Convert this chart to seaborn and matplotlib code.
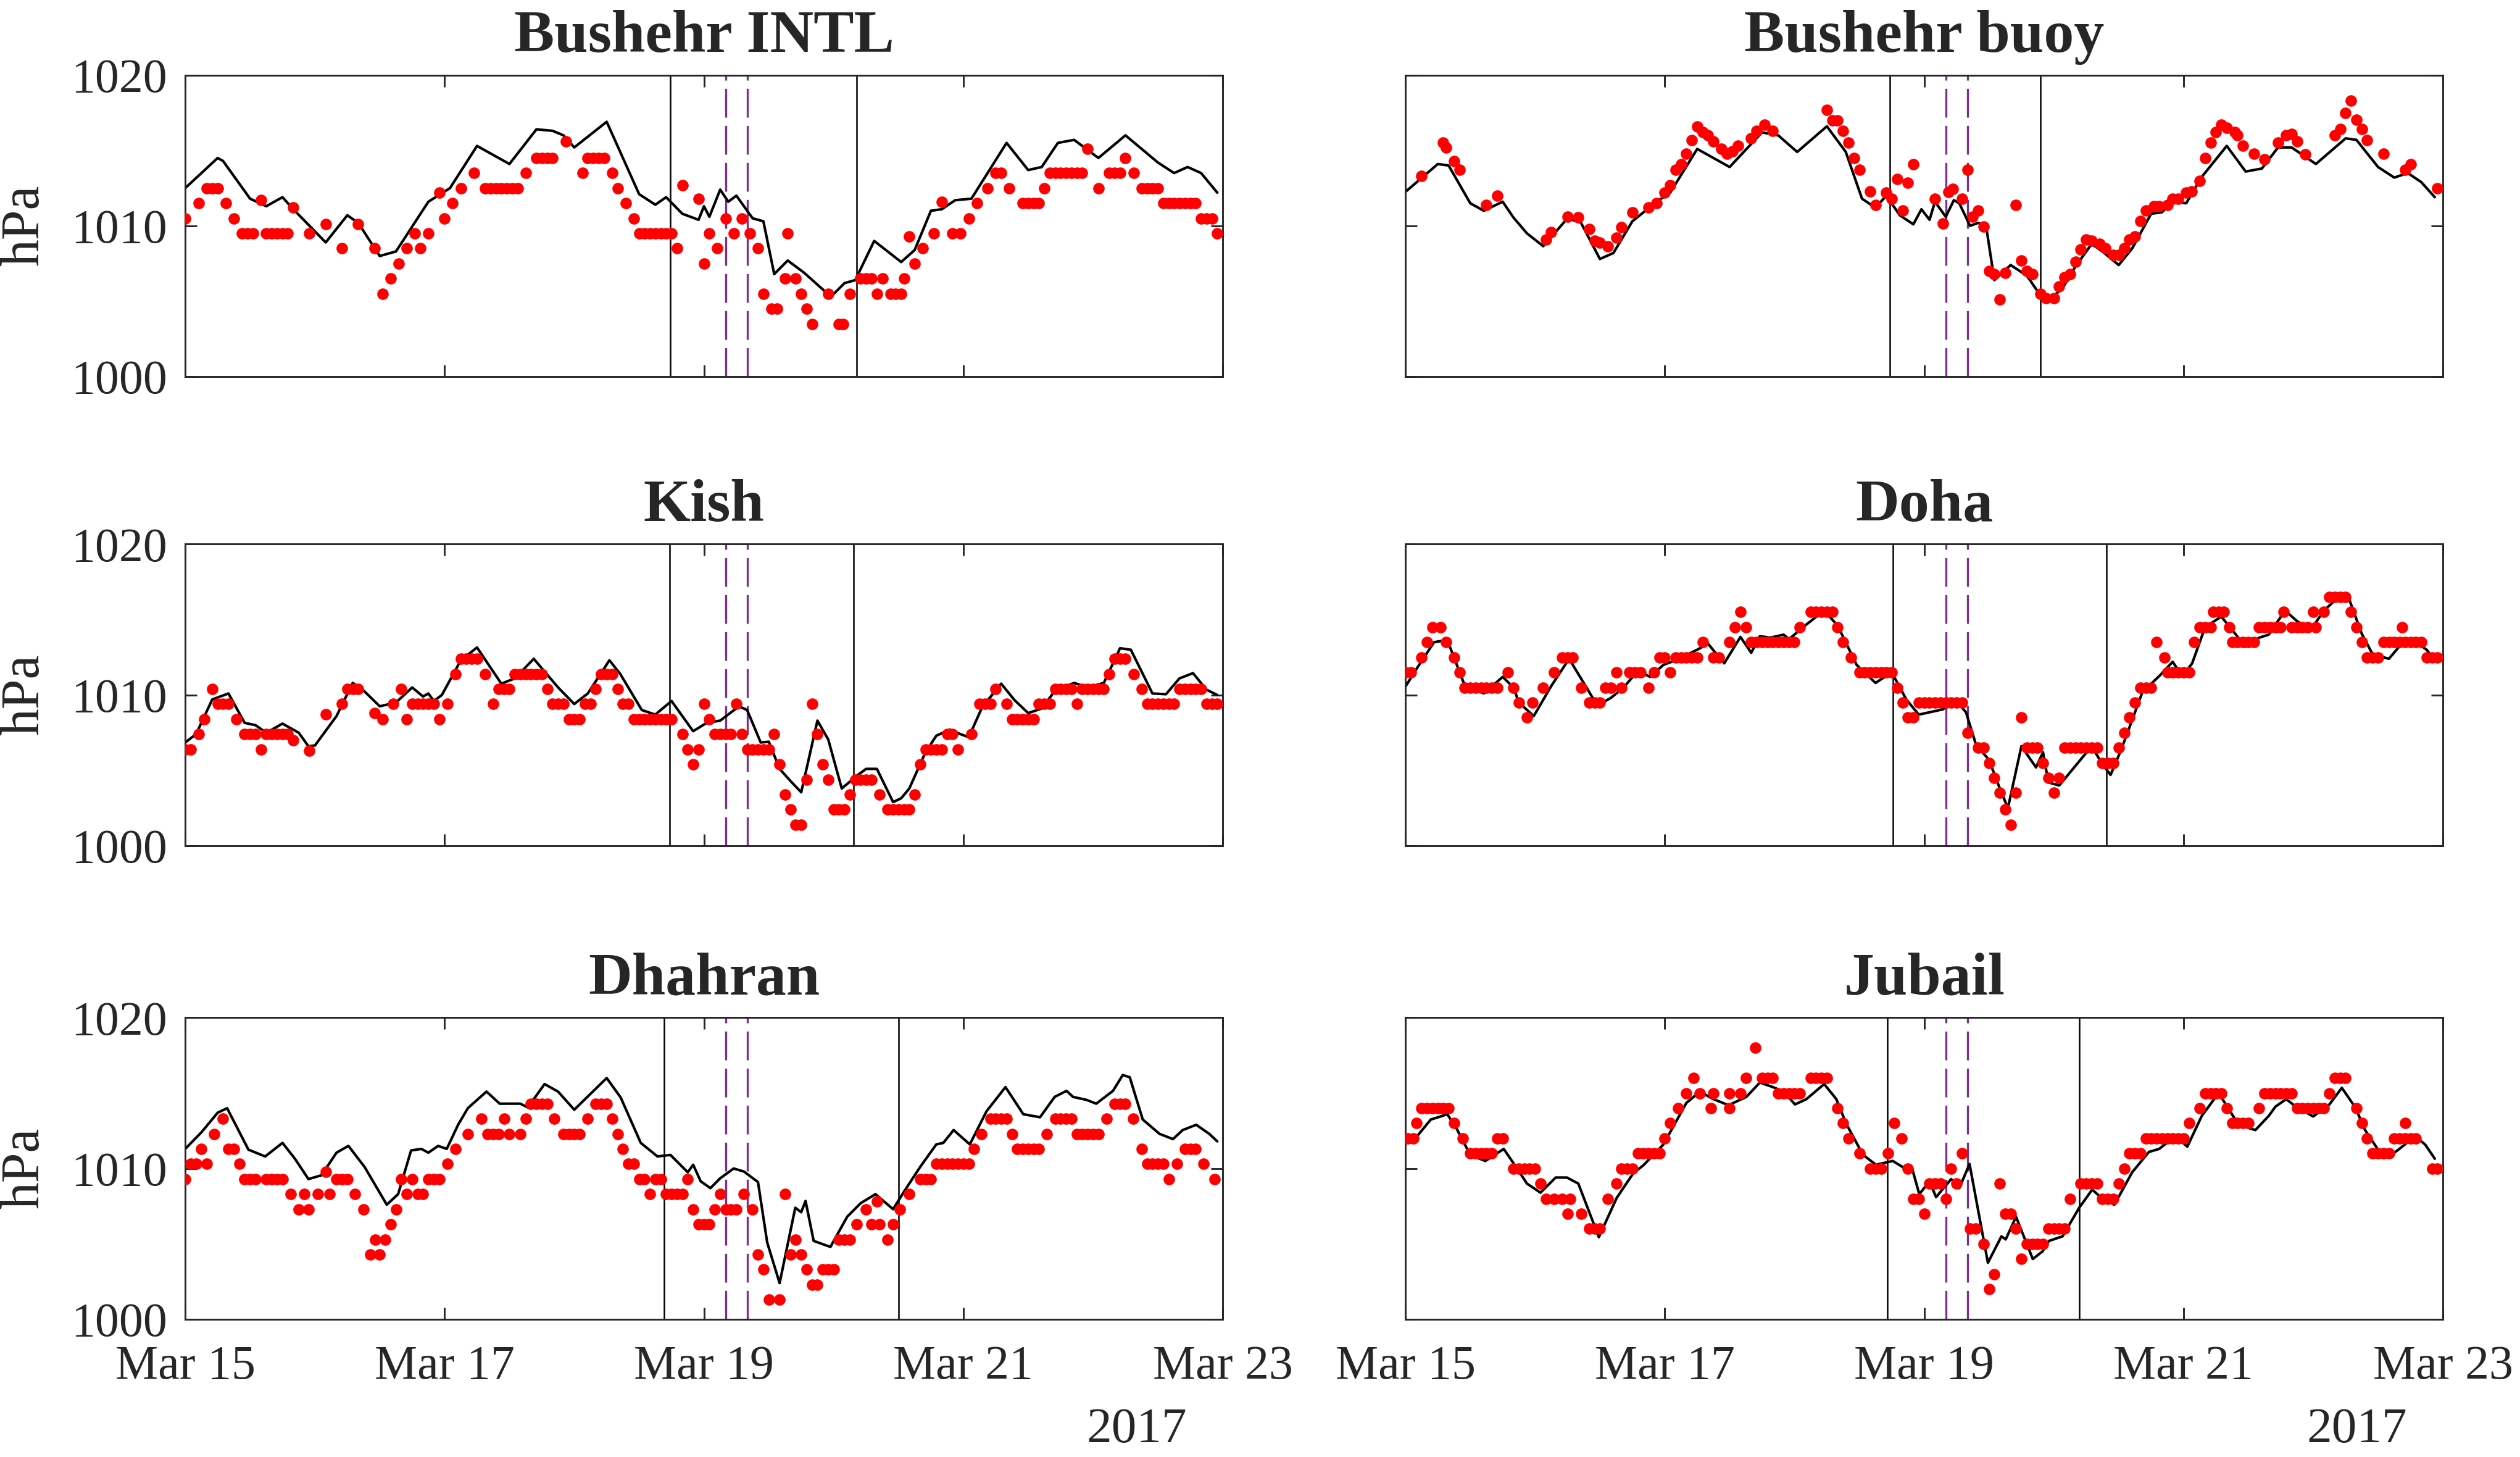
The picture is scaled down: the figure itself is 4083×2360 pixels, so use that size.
import matplotlib
matplotlib.use("Agg")
import matplotlib.pyplot as plt
import matplotlib.dates as mdates
import pandas as pd
import seaborn as sns

# hours after 2017-03-15 00:00 and pressure (hPa)
# black line = model, red dots = observations

bushehr_intl_model = [
    (0, 1012.5), (6, 1014.5), (7, 1014.3), (12, 1011.8), (15, 1011.3), (18, 1011.9), (20, 1011.1),
    (26, 1008.9), (30, 1010.7), (32, 1010.2), (36, 1008.0), (39, 1008.3), (45, 1011.6), (49, 1012.5),
    (54, 1015.3), (60, 1014.1), (65, 1016.4), (68, 1016.3), (70, 1016.0), (72, 1015.2), (78, 1016.9),
    (84, 1012.1), (87, 1011.4), (89, 1011.9), (92, 1010.8), (95, 1010.4), (96, 1011.3), (97, 1010.6),
    (99, 1012.4), (100.5, 1011.6), (102, 1012.0), (105, 1010.5), (107, 1010.3), (109, 1006.8),
    (111.5, 1007.7), (114.5, 1006.9), (119.5, 1005.3), (122, 1006.2), (124, 1006.4), (127.5, 1009.0),
    (132.5, 1007.6), (135, 1008.4), (138, 1011.0), (140, 1011.1), (142.5, 1011.7), (145.5, 1011.8),
    (152, 1015.5), (156, 1013.7), (158.5, 1013.9), (161.5, 1015.5), (164.5, 1015.7), (169, 1014.5),
    (174, 1016.0), (180, 1014.2), (183, 1013.5), (185.5, 1013.9), (188, 1013.5), (191, 1012.2),
]
bushehr_intl_obs = [
    (0, 1010.5), (2.5, 1011.5), (4, 1012.5), (5, 1012.5), (6, 1012.5), (7.5, 1011.5), (9, 1010.5),
    (10.5, 1009.5), (11.5, 1009.5), (12.5, 1009.5), (14, 1011.7), (15, 1009.5), (16, 1009.5),
    (17, 1009.5), (18, 1009.5), (19, 1009.5), (20, 1011.2), (23, 1009.5), (26, 1010.1), (29, 1008.5),
    (32, 1010.1), (35, 1008.5), (36.5, 1005.5), (38, 1006.5), (39.5, 1007.5), (41, 1008.5),
    (42.5, 1009.5), (43.5, 1008.5), (45, 1009.5), (47, 1012.2), (48, 1010.5), (49.5, 1011.5),
    (51, 1012.5), (53.5, 1013.5), (55.5, 1012.5), (56.5, 1012.5), (57.5, 1012.5), (58.5, 1012.5),
    (59.5, 1012.5), (60.5, 1012.5), (61.5, 1012.5), (63, 1013.5), (65, 1014.5), (66, 1014.5),
    (67, 1014.5), (68, 1014.5), (70.5, 1015.6), (73.5, 1013.5), (74.5, 1014.5), (75.5, 1014.5),
    (76.5, 1014.5), (77.5, 1014.5), (79, 1013.5), (80, 1012.5), (81.5, 1011.5), (83, 1010.5),
    (84, 1009.5), (85, 1009.5), (86, 1009.5), (87, 1009.5), (88, 1009.5), (89, 1009.5), (90, 1009.5),
    (91, 1008.5), (92, 1012.7), (95, 1011.8), (96, 1007.5), (97, 1009.5), (98.5, 1008.5),
    (100, 1010.5), (101.5, 1009.5), (103, 1010.5), (104.5, 1009.5), (106, 1008.5), (107, 1005.5),
    (108.5, 1004.5), (109.5, 1004.5), (111, 1006.5), (111.5, 1009.5), (113, 1006.5), (114, 1005.5),
    (115, 1004.5), (116, 1003.5), (119, 1005.5), (121, 1003.5), (121.7, 1003.5), (123, 1005.5),
    (125, 1006.5), (126, 1006.5), (127, 1006.5), (128, 1005.5), (129, 1006.5), (130.5, 1005.5),
    (131.5, 1005.5), (132.5, 1005.5), (133, 1006.5), (134, 1009.3), (135, 1007.5), (136.5, 1008.5),
    (138.5, 1009.5), (140, 1011.6), (142, 1009.5), (143.5, 1009.5), (145, 1010.5), (146.5, 1011.5),
    (148.5, 1012.5), (150, 1013.5), (151, 1013.5), (152.5, 1012.5), (155, 1011.5), (156, 1011.5),
    (157, 1011.5), (158, 1011.5), (159, 1012.5), (160, 1013.5), (161, 1013.5), (162, 1013.5),
    (163, 1013.5), (164, 1013.5), (165, 1013.5), (166, 1013.5), (167, 1015.1), (169, 1012.5),
    (171, 1013.5), (172, 1013.5), (173, 1013.5), (174, 1014.5), (175.5, 1013.5), (177, 1012.5),
    (178, 1012.5), (179, 1012.5), (180, 1012.5), (181, 1011.5), (182, 1011.5), (183, 1011.5),
    (184, 1011.5), (185, 1011.5), (186, 1011.5), (187, 1011.5), (188, 1010.5), (189, 1010.5),
    (190, 1010.5), (191, 1009.5),
]

bushehr_buoy_model = [
    (0, 1012.25), (6, 1014.1), (8, 1014.0), (12, 1011.5), (14.5, 1011.0), (18, 1011.6), (20, 1010.55),
    (22.5, 1009.5), (25.5, 1008.65), (30, 1010.5), (32.5, 1010.2), (36, 1007.8), (38.5, 1008.2),
    (42, 1010.3), (46.5, 1011.6), (49, 1012.2), (54, 1015.1), (60, 1013.9), (66, 1016.2), (69, 1016.0),
    (72.5, 1014.9), (78, 1016.6), (81.5, 1014.9), (84.5, 1011.8), (87, 1011.2), (89, 1012.0),
    (91.5, 1010.7), (94, 1010.1), (95.5, 1011.1), (97, 1010.4), (98, 1011.6), (100, 1010.6),
    (101.5, 1011.7), (102.5, 1011.5), (104.5, 1010.0), (106, 1010.2), (107.5, 1009.9), (109, 1006.4),
    (112, 1007.4), (115, 1006.7), (117.5, 1005.4), (119, 1005.1), (121.5, 1005.8), (124, 1007.3),
    (127, 1008.8), (129, 1008.3), (132, 1007.4), (134.5, 1008.5), (138, 1010.8), (140, 1010.9),
    (142, 1011.6), (144.5, 1011.5), (147.5, 1013.3), (152, 1015.3), (155.5, 1013.6), (158.5, 1013.8),
    (161.5, 1015.2), (164, 1015.2), (168.5, 1014.1), (174, 1015.8), (176, 1015.7), (180, 1013.9),
    (183, 1013.2), (185.5, 1013.5), (188, 1012.9), (190.5, 1011.9),
]
bushehr_buoy_obs = [
    (3, 1013.3), (7, 1015.5), (7.5, 1015.2), (9, 1014.3), (10, 1013.7), (15, 1011.4), (17, 1012.0),
    (26, 1009.1), (27, 1009.6), (30, 1010.6), (32, 1010.55), (34, 1009.8), (35, 1009.0), (36, 1008.9),
    (37.5, 1008.65), (39, 1009.2), (40, 1009.9), (42, 1010.9), (45, 1011.2), (46.5, 1011.5),
    (48, 1012.2), (49, 1012.7), (50, 1013.7), (51, 1014.1), (52, 1014.8), (53, 1015.7), (54, 1016.6),
    (55, 1016.2), (56, 1016.0), (57, 1015.6), (58.5, 1015.1), (59.5, 1014.8), (60.5, 1014.95),
    (61.5, 1015.3), (64, 1015.8), (65, 1016.3), (66.5, 1016.7), (68, 1016.3), (78, 1017.7),
    (79, 1017.0), (80, 1017.0), (81, 1016.3), (82, 1015.5), (83, 1014.5), (84, 1013.7), (86, 1012.3),
    (87, 1011.4), (89, 1012.2), (90, 1011.8), (91, 1013.1), (92, 1011.0), (93, 1012.85), (94, 1014.1),
    (98, 1011.8), (99.5, 1010.15), (100.5, 1012.25), (101.3, 1012.45), (103, 1011.8), (104, 1013.7),
    (105, 1010.6), (106, 1011.0), (107, 1009.95), (108, 1007.0), (109, 1006.8), (110, 1005.1),
    (111, 1006.9), (113, 1011.4), (114, 1007.7), (115, 1007.0), (116, 1006.8), (117.5, 1005.5),
    (118.5, 1005.2), (120, 1005.2), (121, 1006.0), (122, 1006.6), (123, 1006.8), (124, 1007.6),
    (125, 1008.45), (126, 1009.1), (127, 1009.0), (128.5, 1008.8), (129.5, 1008.5), (131, 1008.05),
    (132, 1008.05), (133, 1008.5), (134, 1009.1), (135, 1009.3), (136, 1010.3), (137, 1011.0),
    (138.5, 1011.3), (139.5, 1011.3), (141, 1011.4), (142, 1011.8), (143, 1011.8), (144.5, 1012.2),
    (145.5, 1012.3), (147, 1013.0), (148, 1014.5), (149, 1015.5), (150, 1016.2), (151, 1016.7),
    (152, 1016.5), (153.5, 1016.2), (154, 1016.0), (155, 1015.3), (157, 1014.8), (159, 1014.4),
    (161.5, 1015.5), (163, 1016.0), (164, 1016.1), (165, 1015.6), (166.5, 1014.75), (172, 1016.0),
    (173, 1016.4), (174, 1017.5), (175, 1018.3), (176, 1017.05), (177, 1016.4), (178, 1015.7),
    (181, 1014.8), (185, 1013.7), (186, 1014.1), (191, 1012.5),
]

kish_model = [
    (0, 1006.85), (2, 1007.4), (5, 1009.7), (8, 1010.1), (11, 1008.15), (13, 1008.0), (15, 1007.5),
    (18, 1008.1), (21, 1007.5), (22.8, 1006.6), (24, 1006.65), (28, 1008.6), (31, 1010.8),
    (33, 1010.3), (36, 1009.25), (39, 1009.5), (42, 1010.5), (44, 1009.9), (45, 1010.1), (46, 1009.6),
    (47.5, 1010.0), (51, 1012.3), (54, 1013.15), (58.5, 1010.75), (61, 1011.1), (64.5, 1012.4),
    (69, 1010.5), (72, 1009.4), (74.5, 1010.1), (78.5, 1012.3), (80.5, 1011.4), (84.5, 1009.0),
    (87, 1008.7), (90, 1009.6), (94, 1007.6), (96.5, 1008.15), (99, 1008.3), (102.5, 1009.25),
    (104, 1009.0), (106.5, 1006.85), (108, 1006.9), (110, 1005.1), (112, 1004.3), (114, 1003.55),
    (117, 1008.3), (119, 1007.05), (121.5, 1003.8), (124.5, 1004.7), (126, 1005.1), (128, 1005.1),
    (131, 1002.9), (132.5, 1003.15), (134, 1003.8), (137, 1006.2), (139, 1007.3), (141.5, 1007.7),
    (143.5, 1007.4), (145, 1007.2), (147.5, 1009.2), (151, 1010.75), (153.5, 1009.65), (156, 1008.8),
    (158.5, 1009.1), (161, 1010.3), (164.5, 1010.8), (167, 1010.5), (170, 1010.8), (173, 1013.1),
    (175, 1013.0), (179, 1010.1), (181.5, 1010.05), (184, 1011.1), (186.5, 1011.45), (189, 1010.35),
    (191, 1010.0),
]
kish_obs = [
    (0, 1006.4), (1, 1006.4), (2.5, 1007.4), (3.5, 1008.4), (5, 1010.4), (6, 1009.4), (7, 1009.4),
    (8, 1009.4), (9.5, 1008.4), (11, 1007.4), (12, 1007.4), (13, 1007.4), (14, 1006.4), (15, 1007.4),
    (16, 1007.4), (17, 1007.4), (18, 1007.4), (19, 1007.4), (20, 1007.0), (23, 1006.3), (26, 1008.7),
    (29, 1009.4), (30, 1010.4), (31, 1010.4), (32, 1010.4), (35, 1008.8), (36.5, 1008.4),
    (38.5, 1009.4), (40, 1010.4), (41, 1008.4), (42, 1009.4), (43, 1009.4), (44, 1009.4), (45, 1009.4),
    (46, 1009.4), (47, 1008.4), (48.5, 1009.4), (50, 1011.4), (51, 1012.4), (52, 1012.4),
    (53, 1012.4), (54, 1012.4), (55.5, 1011.4), (57, 1009.4), (58, 1010.4), (59, 1010.4),
    (60, 1010.4), (61, 1011.4), (62, 1011.4), (63, 1011.4), (64, 1011.4), (65, 1011.4), (66, 1011.4),
    (67, 1010.4), (68, 1009.4), (69, 1009.4), (70, 1009.4), (71, 1008.4), (72, 1008.4), (73, 1008.4),
    (74, 1009.4), (75, 1009.4), (76, 1010.4), (77, 1011.4), (78, 1011.4), (79, 1011.4), (80, 1010.4),
    (81, 1009.4), (82, 1009.4), (83, 1008.4), (84, 1008.4), (85, 1008.4), (86, 1008.4), (87, 1008.4),
    (88, 1008.4), (89, 1008.4), (90, 1008.4), (92, 1007.4), (93, 1006.4), (94, 1005.4), (95, 1006.4),
    (96, 1009.4), (97, 1008.4), (98, 1007.4), (99, 1007.4), (100, 1007.4), (101, 1007.4),
    (102, 1009.4), (103, 1007.4), (104, 1006.4), (105, 1006.4), (106, 1006.4), (107, 1006.4),
    (108, 1006.4), (109, 1007.4), (110, 1005.4), (111, 1003.4), (112, 1002.4), (113, 1001.4),
    (114, 1001.4), (115, 1004.4), (116, 1009.4), (117, 1007.4), (118, 1005.4), (119, 1004.4),
    (120, 1002.4), (121, 1002.4), (122, 1002.4), (123, 1003.4), (124, 1004.4), (125, 1004.4),
    (126, 1004.4), (127, 1004.4), (128.5, 1003.4), (130, 1002.4), (131, 1002.4), (132, 1002.4),
    (133, 1002.4), (134, 1002.4), (135, 1003.4), (136, 1005.4), (137, 1006.4), (138, 1006.4),
    (139, 1006.4), (140, 1006.4), (141, 1007.4), (142, 1007.4), (143, 1006.4), (145.5, 1007.4),
    (147, 1009.4), (148, 1009.4), (149, 1009.4), (150, 1010.4), (152, 1009.4), (153, 1008.4),
    (154, 1008.4), (155, 1008.4), (156, 1008.4), (157, 1008.4), (158, 1009.4), (159, 1009.4),
    (160, 1009.4), (161, 1010.4), (162, 1010.4), (163, 1010.4), (164, 1010.4), (165, 1009.4),
    (166, 1010.4), (167, 1010.4), (168, 1010.4), (169, 1010.4), (170, 1010.4), (171, 1011.4),
    (172, 1012.4), (173, 1012.4), (174, 1012.4), (175.5, 1011.4), (177, 1010.4), (178, 1009.4),
    (179, 1009.4), (180, 1009.4), (181, 1009.4), (182, 1009.4), (183, 1009.4), (184, 1010.4),
    (185, 1010.4), (186, 1010.4), (187, 1010.4), (188, 1010.4), (189, 1009.4), (190, 1009.4),
    (191, 1009.4),
]

doha_model = [
    (0, 1010.55), (2, 1011.7), (5.3, 1013.5), (7.75, 1013.65), (10.8, 1010.8), (14.5, 1010.1),
    (18, 1011.2), (20, 1010.5), (21, 1009.5), (23.75, 1008.6), (27, 1010.6), (30.3, 1012.4),
    (33, 1010.8), (35.5, 1009.3), (38, 1009.8), (40.4, 1010.5), (43, 1011.6), (45.3, 1011.2),
    (47.75, 1012.0), (50, 1012.3), (54, 1013.0), (56, 1013.4), (59, 1012.1), (62, 1013.85),
    (64, 1012.8), (65.6, 1013.9), (67.5, 1013.8), (70, 1014.0), (71, 1013.7), (73.6, 1014.5),
    (77.5, 1015.6), (80, 1014.6), (83.5, 1012.0), (87, 1010.8), (90, 1011.5), (92.7, 1009.7),
    (95, 1008.7), (97.6, 1008.9), (99.5, 1009.05), (101.7, 1009.7), (103.75, 1008.85), (105.6, 1006.7),
    (108, 1005.7), (110, 1003.8), (111.5, 1002.5), (114, 1006.6), (116.7, 1005.2), (118, 1006.2),
    (119, 1004.2), (121, 1004.0), (127, 1006.6), (129, 1005.4), (130.5, 1004.7), (132.5, 1006.4),
    (136.4, 1010.2), (139.5, 1011.25), (142, 1012.2), (143.75, 1011.25), (145.6, 1012.1),
    (148, 1014.5), (151, 1015.2), (155.5, 1013.2), (158, 1013.8), (159.75, 1014.0), (162.8, 1015.6),
    (165, 1014.9), (167.5, 1014.3), (170, 1015.6), (173.3, 1016.7), (174.5, 1016.5), (177, 1014.05),
    (179, 1012.7), (182, 1012.4), (184.5, 1013.45), (187, 1013.5), (189, 1013.0), (190.5, 1012.3),
]
doha_obs = [
    (0, 1011.5), (1, 1011.5), (3, 1012.5), (4, 1013.5), (5, 1014.5), (6.5, 1014.5), (7.5, 1013.5),
    (9, 1012.5), (10, 1011.5), (11, 1010.5), (12, 1010.5), (13, 1010.5), (14, 1010.5), (15, 1010.5),
    (16, 1010.5), (17, 1010.5), (19, 1011.5), (20, 1010.5), (21, 1009.5), (22.5, 1008.5),
    (23.5, 1009.5), (25.5, 1010.5), (27.5, 1011.5), (29, 1012.5), (30, 1012.5), (31, 1012.5),
    (32.5, 1010.5), (34, 1009.5), (35, 1009.5), (36, 1009.5), (37, 1010.5), (38, 1010.5),
    (39, 1011.5), (40, 1010.5), (41.5, 1011.5), (42.5, 1011.5), (43.5, 1011.5), (45, 1010.5),
    (46, 1011.5), (47, 1012.5), (48, 1012.5), (49, 1011.5), (50, 1012.5), (51, 1012.5), (52, 1012.5),
    (53, 1012.5), (54, 1012.5), (55, 1013.5), (57, 1012.5), (58, 1012.5), (60, 1013.5), (61, 1014.5),
    (62, 1015.5), (63, 1014.5), (64, 1013.5), (65, 1013.5), (66, 1013.5), (67, 1013.5), (68, 1013.5),
    (69, 1013.5), (70, 1013.5), (71, 1013.5), (72, 1013.5), (73, 1014.5), (75, 1015.5), (76, 1015.5),
    (77, 1015.5), (78, 1015.5), (79, 1015.5), (80, 1014.5), (81, 1013.5), (82.5, 1012.5),
    (84, 1011.5), (85, 1011.5), (86, 1011.5), (87, 1011.5), (88, 1011.5), (89, 1011.5), (90, 1011.5),
    (91, 1010.5), (92, 1009.5), (93, 1008.5), (94, 1008.5), (95, 1009.5), (96, 1009.5), (97, 1009.5),
    (98, 1009.5), (99, 1009.5), (100, 1009.5), (101, 1009.5), (102, 1009.5), (103, 1009.5),
    (104, 1007.5), (106, 1006.5), (107, 1006.5), (108, 1005.5), (109, 1004.5), (110, 1003.5),
    (111, 1002.4), (112, 1001.4), (113, 1003.5), (114, 1008.5), (115, 1006.5), (116, 1006.5),
    (117, 1006.5), (118, 1005.5), (119, 1004.5), (120, 1003.5), (121, 1004.5), (122, 1006.5),
    (123, 1006.5), (124, 1006.5), (125, 1006.5), (126, 1006.5), (127, 1006.5), (128, 1006.5),
    (129, 1005.5), (130, 1005.5), (131, 1005.5), (132, 1006.5), (133, 1007.5), (134, 1008.5),
    (135, 1009.5), (136, 1010.5), (137, 1010.5), (138, 1010.5), (139, 1013.5), (140.5, 1012.5),
    (141, 1011.5), (142, 1011.5), (143, 1011.5), (144, 1011.5), (145, 1011.5), (146, 1013.5),
    (147, 1014.5), (148, 1014.5), (149, 1014.5), (149.5, 1015.5), (150.5, 1015.5), (151.5, 1015.5),
    (152.5, 1014.5), (153, 1013.5), (154, 1013.5), (155, 1013.5), (156, 1013.5), (157, 1013.5),
    (158, 1014.5), (159, 1014.5), (160, 1014.5), (161, 1014.5), (162, 1014.5), (162.5, 1015.5),
    (164, 1014.5), (165, 1014.5), (166, 1014.5), (167, 1014.5), (168, 1015.5), (168.5, 1014.5),
    (170, 1015.5), (171, 1016.5), (172, 1016.5), (173, 1016.5), (174, 1016.5), (175, 1015.5),
    (176, 1014.5), (177, 1013.5), (178, 1012.5), (179, 1012.5), (180, 1012.5), (181, 1013.5),
    (182, 1013.5), (183, 1013.5), (184, 1013.5), (184.5, 1014.5), (185, 1013.5), (186, 1013.5),
    (187, 1013.5), (188, 1013.5), (189, 1012.5), (190, 1012.5), (191, 1012.5),
]

dhahran_model = [
    (0, 1011.3), (3, 1012.4), (6, 1013.7), (7.75, 1014.0), (11.7, 1011.25), (14.8, 1010.8),
    (18, 1011.7), (20.3, 1010.65), (22.8, 1009.3), (25.2, 1009.55), (28, 1011.05), (30.2, 1011.5),
    (33.2, 1010.1), (37.3, 1007.6), (39.4, 1008.3), (41.8, 1011.2), (43.7, 1011.3), (45, 1011.05),
    (46.8, 1011.5), (48.4, 1011.3), (50.5, 1012.9), (52.3, 1014.0), (55.75, 1015.1), (58.2, 1014.3),
    (62, 1014.3), (63.4, 1014.05), (66.5, 1015.6), (69, 1015.1), (72, 1013.9), (78, 1016.0),
    (80.6, 1014.7), (84.3, 1011.7), (87.4, 1010.8), (89.8, 1010.9), (93, 1009.75), (94, 1010.25),
    (95.4, 1009.15), (97.2, 1008.7), (99, 1009.35), (101.5, 1010.0), (103.4, 1009.8), (106, 1009.1),
    (107.7, 1005.1), (110, 1002.4), (112.9, 1007.4), (114, 1007.1), (114.8, 1007.85), (116.3, 1005.2),
    (119.4, 1004.8), (122.5, 1006.8), (125, 1007.7), (127.75, 1008.3), (131, 1007.3), (133, 1008.45),
    (136, 1010.1), (139, 1011.6), (140.3, 1011.7), (142.2, 1012.55), (145.2, 1011.6), (148.3, 1013.8),
    (151.8, 1015.4), (155.1, 1013.6), (158.2, 1013.4), (160.9, 1014.75), (163.1, 1015.15),
    (164.3, 1014.75), (166.8, 1014.55), (168.6, 1014.3), (171.7, 1015.15), (173.5, 1016.2),
    (174.8, 1016.05), (177.2, 1013.25), (180.3, 1012.3), (182.8, 1011.95), (184.6, 1012.55),
    (187.1, 1012.9), (189.5, 1012.3), (191, 1011.8),
]
dhahran_obs = [
    (0, 1009.3), (1, 1010.3), (2, 1010.3), (3, 1011.3), (4, 1010.3), (5.3, 1012.3), (7, 1013.3),
    (8, 1011.3), (9, 1011.3), (10, 1010.3), (11, 1009.3), (12, 1009.3), (13, 1009.3), (15, 1009.3),
    (16, 1009.3), (17, 1009.3), (18, 1009.3), (19.5, 1008.3), (21, 1007.3), (22, 1008.3),
    (22.8, 1007.3), (24.5, 1008.3), (26, 1009.8), (26.7, 1008.3), (28, 1009.3), (29, 1009.3),
    (30, 1009.3), (31.4, 1008.3), (33, 1007.3), (34.2, 1004.3), (35.2, 1005.3), (36, 1004.3),
    (37, 1005.3), (38, 1006.3), (39, 1007.3), (40, 1009.3), (41, 1008.3), (42, 1009.3), (43, 1008.3),
    (44, 1008.3), (45, 1009.3), (46, 1009.3), (47, 1009.3), (48.5, 1010.3), (50, 1011.3),
    (52.3, 1012.3), (54.8, 1013.3), (56, 1012.3), (57, 1012.3), (58, 1012.3), (59, 1013.3),
    (60, 1012.3), (62, 1012.3), (63, 1013.3), (64, 1014.3), (65, 1014.3), (66, 1014.3), (67, 1014.3),
    (68.3, 1013.3), (70, 1012.3), (71, 1012.3), (72, 1012.3), (73, 1012.3), (74.5, 1013.3),
    (76, 1014.3), (77, 1014.3), (78, 1014.3), (79, 1013.3), (80, 1012.3), (81, 1011.3), (82, 1010.3),
    (83, 1010.3), (84, 1009.3), (85, 1009.3), (86, 1008.3), (87, 1009.3), (88, 1009.3), (89, 1008.3),
    (90, 1008.3), (91, 1008.3), (92, 1008.3), (93, 1009.3), (94, 1007.3), (95, 1006.3), (96, 1006.3),
    (97, 1006.3), (98, 1007.3), (99, 1008.3), (100, 1007.3), (101, 1007.3), (102, 1007.3),
    (103.4, 1008.3), (105, 1007.3), (106, 1004.3), (107, 1003.3), (108, 1001.3), (110, 1001.3),
    (111, 1008.3), (112, 1004.3), (113, 1005.3), (114, 1004.3), (115, 1003.3), (116, 1002.3),
    (117, 1002.3), (118, 1003.3), (119, 1003.3), (120, 1003.3), (121, 1005.3), (122, 1005.3),
    (123, 1005.3), (124.3, 1006.3), (126, 1007.3), (127, 1006.3), (128, 1007.8), (128.5, 1006.3),
    (130, 1005.3), (131, 1006.3), (132.3, 1007.3), (134, 1008.3), (136, 1009.3), (137, 1009.3),
    (138, 1009.3), (139, 1010.3), (140, 1010.3), (141, 1010.3), (142, 1010.3), (143, 1010.3),
    (144, 1010.3), (145, 1010.3), (146, 1011.3), (147.3, 1012.3), (149, 1013.3), (150, 1013.3),
    (151, 1013.3), (152, 1013.3), (153, 1012.3), (154, 1011.3), (155, 1011.3), (156, 1011.3),
    (157, 1011.3), (158, 1011.3), (159.4, 1012.3), (161, 1013.3), (162, 1013.3), (163, 1013.3),
    (164, 1013.3), (165, 1012.3), (166, 1012.3), (167, 1012.3), (168, 1012.3), (169, 1012.3),
    (170.5, 1013.3), (172, 1014.3), (173, 1014.3), (174, 1014.3), (175.4, 1013.3), (177, 1011.3),
    (178, 1010.3), (179, 1010.3), (180, 1010.3), (181, 1010.3), (182, 1009.3), (183.5, 1010.3),
    (185, 1011.3), (186, 1011.3), (187, 1011.3), (188.5, 1010.3), (190.5, 1009.3),
]

jubail_model = [
    (0, 1011.75), (1.6, 1011.9), (4.7, 1013.25), (6.5, 1013.45), (7.75, 1013.6), (9.4, 1012.7),
    (12, 1010.9), (14.8, 1010.5), (18.2, 1011.3), (20, 1010.35), (22.5, 1009.0), (25, 1008.4),
    (27.8, 1009.4), (29.9, 1009.4), (32, 1009.0), (35.8, 1005.45), (39.1, 1008.05), (42.2, 1009.7),
    (44, 1010.2), (45.9, 1010.9), (47.75, 1011.6), (49.6, 1012.8), (52, 1014.35), (54.5, 1015.1),
    (57, 1014.6), (59.8, 1014.2), (63.1, 1014.75), (65.6, 1015.7), (68, 1015.4), (70, 1015.1),
    (72.1, 1014.25), (74.2, 1014.6), (77.5, 1015.6), (79.75, 1014.6), (81.6, 1012.95), (84.7, 1010.9),
    (87.1, 1010.25), (90.2, 1010.5), (92.7, 1009.95), (93.7, 1010.1), (95.1, 1008.3), (97, 1009.15),
    (98.2, 1008.1), (101, 1009.3), (102.5, 1008.7), (104.4, 1010.3), (107.8, 1003.75), (110.3, 1005.5),
    (111.1, 1005.3), (113, 1006.8), (116.1, 1004.0), (117.9, 1004.5), (119.1, 1005.2), (121.6, 1005.5),
    (124.7, 1007.4), (127.1, 1008.6), (129, 1008.0), (131.2, 1007.6), (134.5, 1009.75), (137.6, 1011.1),
    (139.5, 1011.3), (142.5, 1012.15), (144.7, 1011.45), (147.4, 1013.5), (150.5, 1015.0),
    (154.2, 1012.9), (157.3, 1012.55), (159.8, 1013.5), (161, 1014.1), (163, 1014.6), (164.8, 1014.1),
    (168, 1013.45), (171, 1014.25), (173.3, 1015.35), (175.8, 1014.05), (177.6, 1012.55),
    (180, 1011.25), (182.5, 1010.9), (185, 1011.6), (186.8, 1012.15), (188.7, 1011.6), (190.5, 1010.65),
]
jubail_obs = [
    (0.5, 1012), (1.5, 1012), (2, 1013), (3, 1014), (4, 1014), (5, 1014), (6, 1014), (7, 1014),
    (8, 1014), (9, 1013), (10.6, 1012), (12, 1011), (13, 1011), (14, 1011), (15, 1011), (16, 1011),
    (17, 1012), (18, 1012), (20, 1010), (21, 1010), (22, 1010), (23, 1010), (24, 1010), (25, 1009),
    (26, 1008), (27.5, 1008), (29, 1008), (30, 1007), (30.5, 1008), (32.5, 1007), (34, 1006),
    (35, 1006), (36, 1006), (37.5, 1008), (39, 1009), (40, 1010), (41, 1010), (42, 1010), (43, 1011),
    (44, 1011), (45, 1011), (46, 1011), (47, 1011), (48, 1012), (49, 1013), (50.5, 1014), (52, 1015),
    (53.3, 1016), (54.5, 1015), (56.5, 1014), (57, 1015), (60, 1014), (60, 1015), (62, 1015),
    (63, 1016), (64.7, 1018), (66, 1016), (67, 1016), (68, 1016), (69, 1015), (70, 1015), (71, 1015),
    (72, 1015), (73, 1015), (75, 1016), (76, 1016), (77, 1016), (78, 1016), (80, 1014), (81, 1013),
    (82, 1012), (84, 1011), (86, 1010), (87, 1010), (88, 1010), (89.3, 1011), (90.5, 1013),
    (91.8, 1012), (93, 1010), (94, 1008), (95, 1008), (96, 1007), (97, 1009), (98, 1009), (99, 1009),
    (100, 1008), (101, 1010), (102, 1009), (103, 1011), (104.5, 1006), (105.5, 1006), (107, 1005),
    (108, 1002), (109, 1003), (110, 1009), (111, 1007), (112, 1007), (113, 1006), (114, 1004),
    (115, 1005), (116, 1005), (117, 1005), (118, 1005), (119, 1006), (120, 1006), (121, 1006),
    (122, 1006), (123, 1008), (125, 1009), (126, 1009), (127, 1009), (128, 1009), (129, 1008),
    (130, 1008), (131, 1008), (132, 1009), (133, 1010), (134, 1011), (135, 1011), (136, 1011),
    (137, 1012), (138, 1012), (139, 1012), (140, 1012), (141, 1012), (142, 1012), (143, 1012),
    (144, 1012), (145, 1013), (147, 1014), (148, 1015), (149, 1015), (150, 1015), (151, 1015),
    (152, 1014), (153, 1013), (154, 1013), (155, 1013), (156, 1013), (158, 1014), (159, 1015),
    (160, 1015), (161, 1015), (162, 1015), (163, 1015), (164, 1015), (165, 1014), (166, 1014),
    (167, 1014), (168, 1014), (169, 1014), (170, 1014), (171, 1015), (172, 1016), (173, 1016),
    (174, 1016), (176, 1014), (177, 1013), (178, 1012), (179, 1011), (180, 1011), (181, 1011),
    (182, 1011), (183, 1012), (184, 1012), (185, 1012), (185, 1013), (186, 1012), (187, 1012),
    (190, 1010), (191, 1010),
]

station_names = ["Bushehr INTL", "Bushehr buoy", "Kish", "Doha", "Dhahran", "Jubail"]
event_start_h = [89.8, 89.6, 89.6, 90.2, 88.6, 89.2]
event_end_h = [124.3, 117.5, 123.7, 129.8, 132.0, 124.7]
dashed_h = [100.0, 104.0]

model_series = [bushehr_intl_model, bushehr_buoy_model, kish_model,
                doha_model, dhahran_model, jubail_model]
obs_series = [bushehr_intl_obs, bushehr_buoy_obs, kish_obs,
              doha_obs, dhahran_obs, jubail_obs]

t0 = pd.Timestamp("2017-03-15")
t1 = pd.Timestamp("2017-03-23")


def to_frame(pairs):
    df = pd.DataFrame(pairs, columns=["hour", "hPa"])
    df["time"] = t0 + pd.to_timedelta(df["hour"], unit="h")
    return df


sns.set_style("ticks")
plt.rcParams["font.family"] = ["Liberation Serif", "DejaVu Serif"]
plt.rcParams["axes.linewidth"] = 0.7

fig = plt.figure(figsize=(4083 / 300, 2360 / 300), dpi=300)

col_left = [0.0735, 0.5577]
row_bottom = [0.7415, 0.4195, 0.0945]
ax_w, ax_h = 0.4117, 0.207
purple = "#7E2F8E"

for i, name in enumerate(station_names):
    row, col = divmod(i, 2)
    ax = fig.add_axes([col_left[col], row_bottom[row], ax_w, ax_h])

    mod = to_frame(model_series[i])
    obs = to_frame(obs_series[i])

    sns.scatterplot(data=obs, x="time", y="hPa", ax=ax, color="#FF0000",
                    s=20, linewidth=0, zorder=3)
    sns.lineplot(data=mod, x="time", y="hPa", ax=ax, color="black",
                 lw=1.0, estimator=None, sort=False, zorder=2)

    for h in (event_start_h[i], event_end_h[i]):
        ax.axvline(t0 + pd.Timedelta(hours=h), color="black", lw=0.6, zorder=1)
    for h in dashed_h:
        ax.axvline(t0 + pd.Timedelta(hours=h), color=purple, lw=0.8,
                   linestyle=(0, (14, 4)), zorder=1)

    ax.set_xlim(t0, t1)
    ax.set_ylim(1000, 1020)
    ax.set_yticks([1000, 1010, 1020])
    ax.xaxis.set_major_locator(mdates.DayLocator(bymonthday=[15, 17, 19, 21, 23]))
    ax.xaxis.set_major_formatter(mdates.DateFormatter("%b %d"))
    ax.tick_params(direction="in", top=True, right=True, length=4.5, width=0.7,
                   labelsize=18.7, pad=7)
    ax.tick_params(axis="x", pad=10)
    for sp in ax.spines.values():
        sp.set_visible(True)
        sp.set_linewidth(0.7)

    ax.set_title(name, fontsize=23.5, fontweight="bold", pad=9)
    ax.set_xlabel("")
    if col == 0:
        ax.set_ylabel("hPa", fontsize=21)
        ax.yaxis.set_label_coords(-0.130, 0.5)
    else:
        ax.set_ylabel("")
        ax.tick_params(labelleft=False)
    if row < 2:
        ax.tick_params(labelbottom=False)
    else:
        ax.text(0.917, -0.368, "2017", transform=ax.transAxes, fontsize=19.5,
                ha="center", va="center")

fig.savefig("out.png", dpi=300)
